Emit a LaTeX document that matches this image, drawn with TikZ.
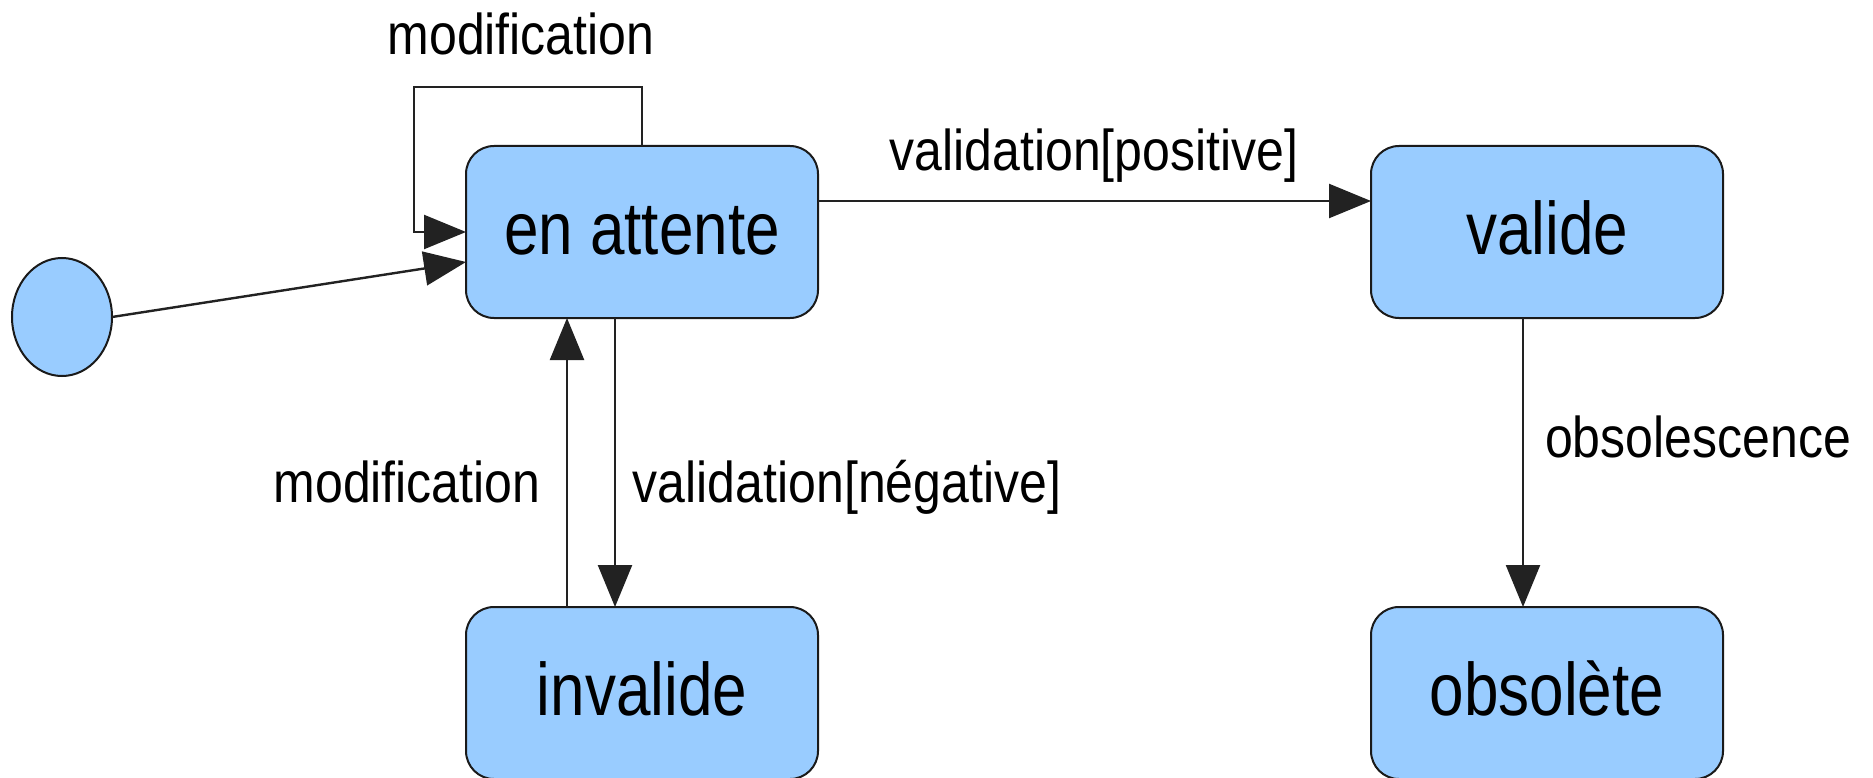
\documentclass[tikz,border=0pt]{standalone}
\usepackage{fontspec}
\setmainfont{Liberation Sans}
\usetikzlibrary{arrows.meta,shapes.geometric,calc}
\definecolor{stateblue}{HTML}{99CCFF}
\definecolor{edgec}{HTML}{222222}
\definecolor{bordc}{HTML}{1A1A1A}
\newcommand{\boxtxt}[1]{\scalebox{1}[1.2]{#1}}
\newcommand{\edgetxt}[1]{\scalebox{1}[1.15]{#1}}
\begin{document}
\begin{tikzpicture}[x=1pt,y=-1pt,
  statebox/.style={draw=bordc, line width=2pt, fill=stateblue, rounded corners=28pt, minimum width=352pt, minimum height=172pt, inner sep=0pt, outer sep=0pt, text height=44pt, text depth=0pt, font=\fontsize{62}{70}\selectfont},
  initstate/.style={ellipse, draw=bordc, line width=2pt, fill=stateblue, minimum width=100pt, minimum height=118pt, inner sep=0pt, outer sep=0pt},
  arr/.style={draw=edgec, line width=2.4pt, -{Triangle[length=42pt,width=34pt]}},
  elabel/.style={font=\fontsize{50}{58}\selectfont, inner sep=0pt, anchor=base}
]
\useasboundingbox (0,0) rectangle (1873,778);

\node[initstate] (init) at (62,317) {};
\node[statebox] (att) at (642,232) {\boxtxt{en attente}};
\node[statebox] (val) at (1547,232) {\boxtxt{valide}};
\node[statebox] (inv) at (642,693) {\boxtxt{invalide}};
\node[statebox] (obs) at (1547,693) {\boxtxt{obsolète}};

% initial transition
\coordinate (iend) at ($(att.west)+(0,30)$);
\draw[arr] (init.east) -- (iend);

% self loop
\coordinate (lpA) at ($(att.north)+(0,-59)$);
\coordinate (lpB) at ($(att.west)+(-52,0)$);
\draw[arr] (att.north) -- (lpA) -| (lpB) -- (att.west);
\node[elabel] (lmod) at (521,55) {\edgetxt{modification}};

% validation positive
\draw[arr] ($(att.east)+(0,-31)$) -- ($(val.west)+(0,-31)$);
\node[elabel] (lvp) at (1094,171) {\edgetxt{validation[positive]}};

% invalide <-> en attente
\draw[arr] ($(inv.north)+(-75,0)$) -- ($(att.south)+(-75,0)$);
\draw[arr] ($(att.south)+(-27,0)$) -- ($(inv.north)+(-27,0)$);
\node[elabel] (lmod2) at (407,502) {\edgetxt{modification}};
\node[elabel] (lvn) at (847,502) {\edgetxt{validation[négative]}};

% obsolescence
\draw[arr] ($(val.south)+(-24,0)$) -- ($(obs.north)+(-24,0)$);
\node[elabel] (lobs) at (1698,457) {\edgetxt{obsolescence}};
\end{tikzpicture}
\end{document}
